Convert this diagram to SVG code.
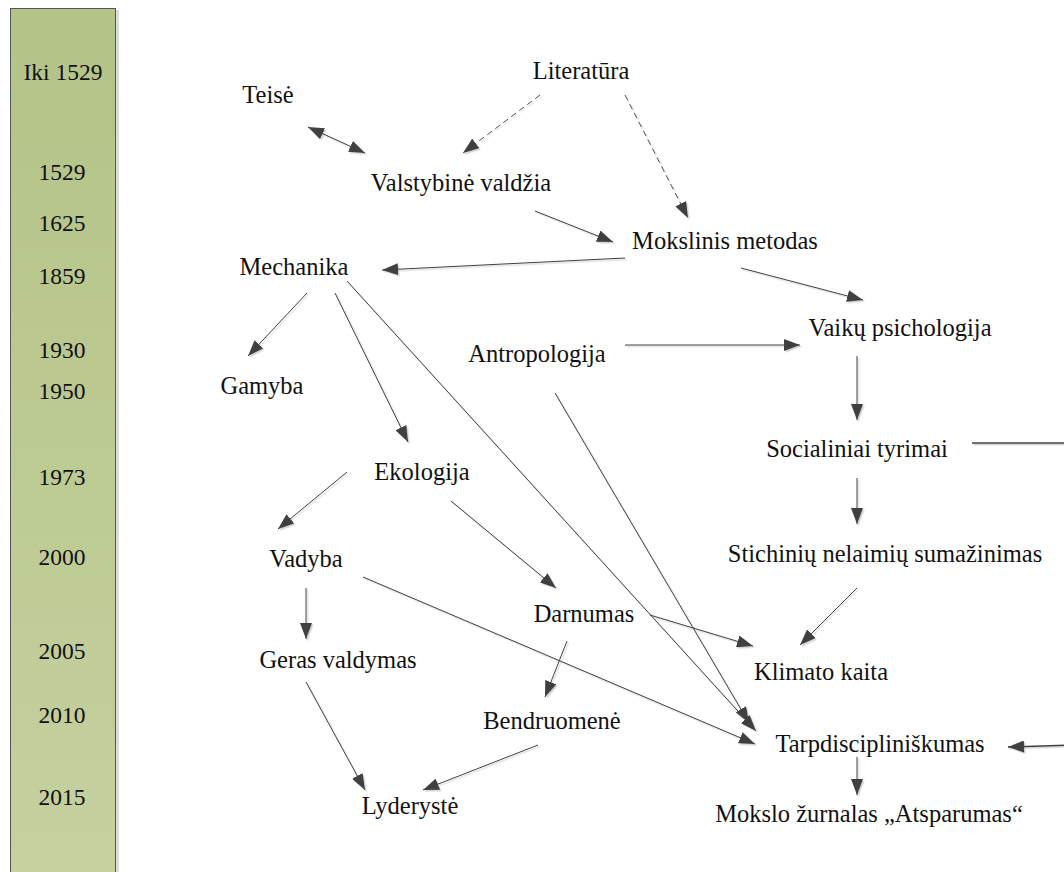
<svg xmlns="http://www.w3.org/2000/svg" width="1064" height="872" viewBox="0 0 1064 872">
<defs>
<linearGradient id="barGrad" x1="0" y1="0" x2="0" y2="1">
<stop offset="0" stop-color="#b4c387"/>
<stop offset="1" stop-color="#c5d19f"/>
</linearGradient>
<marker id="arr" markerUnits="userSpaceOnUse" markerWidth="17" markerHeight="12" refX="16" refY="6" orient="auto-start-reverse" viewBox="0 0 17 12">
<path d="M0,0 L16,6 L0,12 z" fill="#404040"/>
</marker>
<filter id="sh" x="-5%" y="-5%" width="110%" height="110%">
<feDropShadow dx="1.5" dy="1.5" stdDeviation="0.6" flood-color="#000" flood-opacity="0.18"/>
</filter>
</defs>
<style>
text{font-family:"Liberation Serif","Times New Roman",serif;font-size:24.5px;fill:#111;text-anchor:middle}
.y{font-size:23.5px}
.c{fill:none;stroke:#404040;stroke-width:1;marker-end:url(#arr)}
.d{stroke-dasharray:6 4;stroke:#505050}
.b{marker-start:url(#arr)}
</style>
<rect width="1064" height="872" fill="#fff"/>
<g id="timeline">
<rect x="116" y="10" width="3" height="870" fill="#dcdcdc"/>
<rect x="10.5" y="8.5" width="105" height="880" fill="url(#barGrad)" stroke="#555" stroke-width="1"/>
<text class="y" x="63" y="80">Iki 1529</text>
<text class="y" x="62" y="180">1529</text>
<text class="y" x="62" y="231">1625</text>
<text class="y" x="62" y="284">1859</text>
<text class="y" x="62" y="358">1930</text>
<text class="y" x="62" y="399">1950</text>
<text class="y" x="62" y="485">1973</text>
<text class="y" x="62" y="565">2000</text>
<text class="y" x="62" y="659">2005</text>
<text class="y" x="62" y="723">2010</text>
<text class="y" x="62" y="805">2015</text>
</g>
<g id="connectors" filter="url(#sh)">
<line class="c b" x1="308" y1="127" x2="365" y2="153"/>
<line class="c d" x1="540" y1="95" x2="463" y2="153"/>
<line class="c d" x1="625" y1="95" x2="688" y2="218"/>
<line class="c" x1="535" y1="211" x2="613" y2="242"/>
<line class="c" x1="625" y1="258" x2="382" y2="270"/>
<line class="c" x1="741" y1="268" x2="863" y2="300"/>
<line class="c" x1="625" y1="345" x2="800" y2="345"/>
<line class="c" x1="857" y1="356" x2="857" y2="420"/>
<line class="c" x1="307" y1="293" x2="248" y2="356"/>
<line class="c" x1="335" y1="293" x2="408" y2="442"/>
<line class="c" x1="347" y1="281" x2="756" y2="731"/>
<line class="c" x1="555" y1="393" x2="749" y2="723"/>
<line class="c" x1="347" y1="472" x2="278" y2="529"/>
<line class="c" x1="451" y1="501" x2="556" y2="588"/>
<line class="c" x1="306" y1="588" x2="306" y2="639"/>
<line class="c" x1="363" y1="577" x2="755" y2="744"/>
<line class="c" x1="650" y1="615" x2="753" y2="646"/>
<line class="c" x1="567" y1="641" x2="545" y2="697"/>
<line class="c" x1="306" y1="682" x2="365" y2="790"/>
<line class="c" x1="538" y1="745" x2="423" y2="790"/>
<line class="c" x1="857" y1="588" x2="800" y2="645"/>
<line class="c" x1="857" y1="478" x2="857" y2="524"/>
<polyline class="c" style="stroke-width:1.5" points="972,443 1075,443 1075,745 1008,747"/>
<line class="c" x1="857" y1="757" x2="857" y2="795"/>
</g>
<g id="n-teise"><text x="268" y="103">Teisė</text></g>
<g id="n-literatura"><text x="581" y="79">Literatūra</text></g>
<g id="n-valstybine"><text x="461" y="191">Valstybinė valdžia</text></g>
<g id="n-mokslinis"><text x="725" y="249">Mokslinis metodas</text></g>
<g id="n-mechanika"><text x="294" y="275">Mechanika</text></g>
<g id="n-vaiku"><text x="900" y="336">Vaikų psichologija</text></g>
<g id="n-antropologija"><text x="537" y="362">Antropologija</text></g>
<g id="n-gamyba"><text x="262" y="394">Gamyba</text></g>
<g id="n-socialiniai"><text x="857" y="457">Socialiniai tyrimai</text></g>
<g id="n-ekologija"><text x="422" y="480">Ekologija</text></g>
<g id="n-vadyba"><text x="306" y="567">Vadyba</text></g>
<g id="n-stichiniu"><text x="885" y="562">Stichinių nelaimių sumažinimas</text></g>
<g id="n-darnumas"><text x="584" y="622">Darnumas</text></g>
<g id="n-geras"><text x="338" y="668">Geras valdymas</text></g>
<g id="n-klimato"><text x="821" y="680">Klimato kaita</text></g>
<g id="n-bendruomene"><text x="552" y="729">Bendruomenė</text></g>
<g id="n-tarp"><text x="880" y="752">Tarpdiscipliniškumas</text></g>
<g id="n-lyderyste"><text x="410" y="814">Lyderystė</text></g>
<g id="n-zurnalas"><text x="869" y="822">Mokslo žurnalas „Atsparumas“</text></g>
</svg>
